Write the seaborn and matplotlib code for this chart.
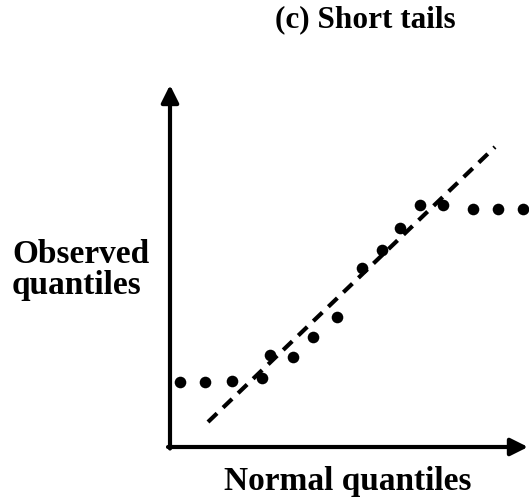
import matplotlib
matplotlib.use('Agg')
import matplotlib.pyplot as plt
import seaborn as sns
import pandas as pd

# sketch of a normal Q-Q plot for a short-tailed sample
normal_q = [0.10, 0.35, 0.62, 0.92, 1.00, 1.23, 1.43, 1.67, 1.92, 2.12, 2.30, 2.50, 2.73, 3.03, 3.28, 3.53]
observed_q = [0.65, 0.65, 0.66, 0.69, 0.92, 0.90, 1.10, 1.30, 1.79, 1.97, 2.19, 2.42, 2.42, 2.38, 2.38, 2.38]
ref_x = [0.38, 3.25]
ref_y = [0.25, 3.00]

df = pd.DataFrame({'x': normal_q, 'y': observed_q})
ref = pd.DataFrame({'x': ref_x, 'y': ref_y})

sns.set_style('white')
plt.rcParams['font.family'] = ['Liberation Serif', 'DejaVu Serif']
plt.rcParams['text.color'] = 'black'

fig = plt.figure(figsize=(5.29, 4.98), dpi=100)
ax = fig.add_axes([170/529, 51/498, 359/529, 362/498])

sns.lineplot(data=ref, x='x', y='y', ax=ax, color='black', lw=3.0, dashes=False)
ax.lines[0].set_dashes((3.0, 2.0))
sns.scatterplot(data=df, x='x', y='y', ax=ax, color='black', s=70, marker='o',
                edgecolor='black', linewidth=0, clip_on=False)

ax.set_xlim(0, 3.59)
ax.set_ylim(0, 3.62)
for s in ax.spines.values():
    s.set_visible(False)
ax.set_xticks([])
ax.set_yticks([])
ax.set_xlabel('')
ax.set_ylabel('')

arrow = dict(arrowstyle='-|>', lw=3.0, color='black', mutation_scale=26, shrinkA=0, shrinkB=0)
ax.annotate('', xy=(0, 3.62), xytext=(0, -0.015), arrowprops=arrow, annotation_clip=False)
ax.annotate('', xy=(3.58, 0), xytext=(-0.02, 0), arrowprops=arrow, annotation_clip=False)

fig.text(365/529, 1 - 20/498, '(c) Short tails', ha='center', va='center',
         fontsize=22.5, fontweight='bold', color='black')
fig.text(12/529, 1 - 270/498, 'Observed\nquantiles', ha='left', va='center',
         fontsize=24, fontweight='bold', linespacing=1.0, color='black')
fig.text(348/529, 1 - 481/498, 'Normal quantiles', ha='center', va='center',
         fontsize=24, fontweight='bold', color='black')

fig.savefig('out.png', dpi=100)
